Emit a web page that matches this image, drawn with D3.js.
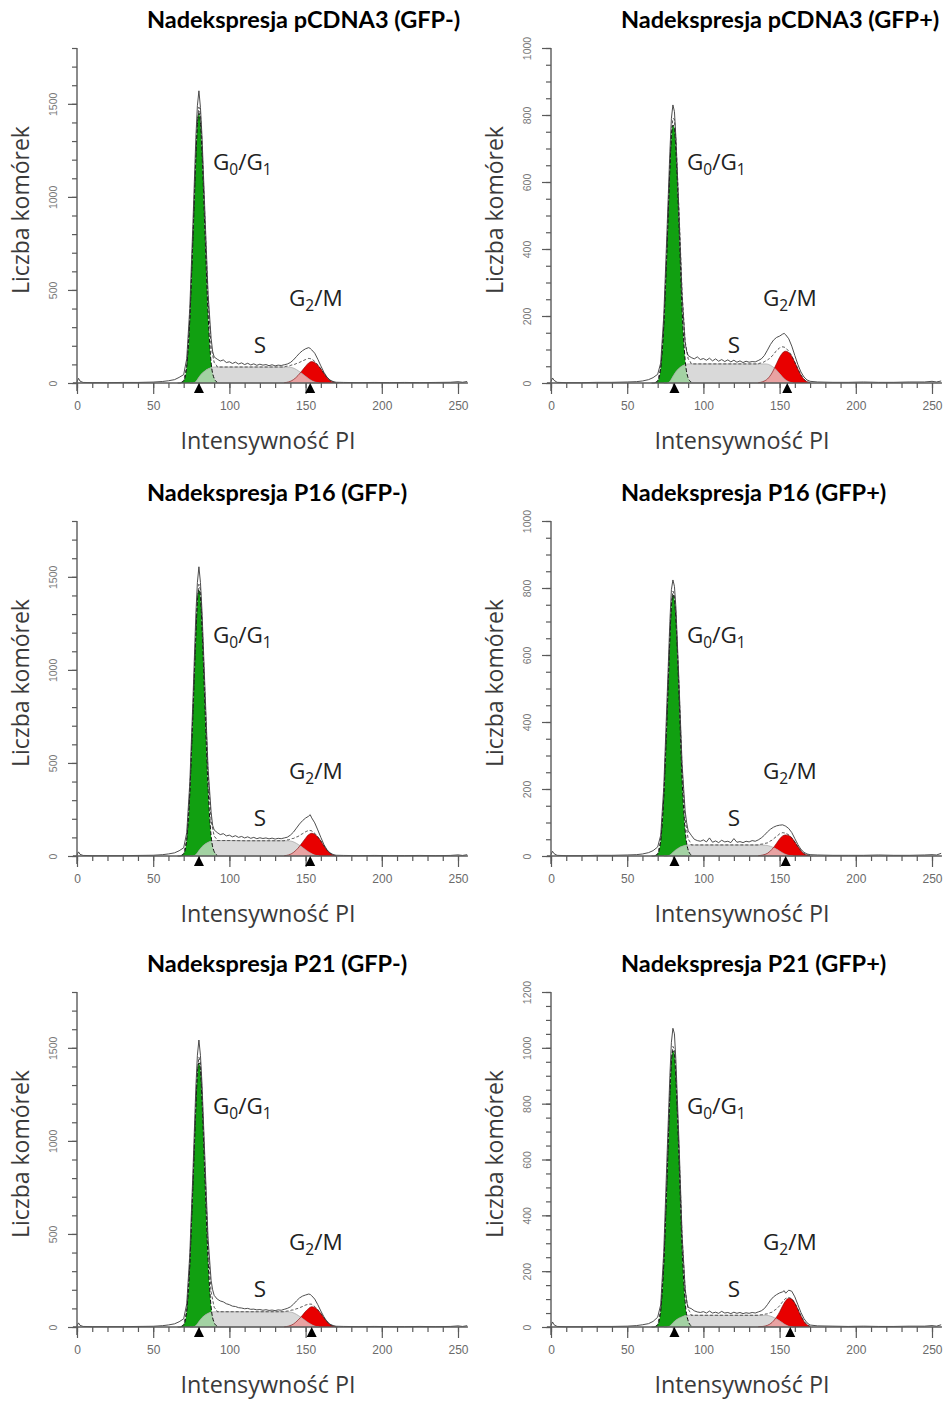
<!DOCTYPE html>
<html><head><meta charset="utf-8">
<script src="https://cdn.jsdelivr.net/npm/d3@7"></script>
<style>body{margin:0;background:#fff} svg{display:block}</style>
</head><body>
<svg id="c" width="949" height="1403"></svg>
<script>
// ---------- data ----------
const titles = ["Nadekspresja pCDNA3 (GFP-)", "Nadekspresja pCDNA3 (GFP+)",
  "Nadekspresja P16 (GFP-)", "Nadekspresja P16 (GFP+)",
  "Nadekspresja P21 (GFP-)", "Nadekspresja P21 (GFP+)"];
const yMaxes = [1800, 1000, 1800, 1000, 1800, 1200];
const yMajorStep = [500, 200, 500, 200, 500, 200];
const yMinorStep = [100, 50, 100, 50, 100, 50];
const xMajorTicks = [0, 50, 100, 150, 200, 250];
const xMinorStep = 10;
const xTitle = "Intensywność PI";
const yTitle = "Liczba komórek";
const g1Peak = [80, 81, 80, 81, 80, 81];
const g2Peak = [153, 155, 153, 154, 154, 157];

// G0/G1 component
const g1X = [68,70,72,74,76,78,79,80,81,82,84,86,88,90,92];
const g1Values = [
  [2,12,90,340,760,1210,1390,1450,1400,1240,800,370,110,25,4],
  [1,6,45,170,390,640,735,770,760,690,470,220,70,15,3],
  [2,12,88,335,750,1190,1370,1430,1390,1230,790,365,108,24,4],
  [1,6,46,175,400,650,745,780,765,700,480,230,78,18,3],
  [2,12,87,333,745,1185,1365,1420,1380,1220,785,360,107,24,4],
  [1,8,60,225,510,830,950,990,975,880,600,285,92,22,4]
];
// S phase component
const sX = [74,76,78,80,82,84,86,88,90,100,110,120,130,138,141,144,147,150,153,156,159];
const sValues = [
  [0,0,8,32,52,66,76,83,86,86,86,86,86,86,83,72,55,36,18,6,0],
  [0,0,5,20,34,44,51,55,57,57,57,57,57,57,57,53,43,28,13,4,0],
  [0,0,8,30,50,64,74,80,83,83,82,82,82,82,79,68,52,34,17,5,0],
  [0,0,3,11,19,25,29,32,33,33,33,33,33,33,32,29,23,15,7,2,0],
  [0,0,8,30,50,64,74,80,82,82,82,82,82,82,79,68,52,34,17,5,0],
  [0,0,4,15,25,32,37,41,42,42,42,42,42,42,42,39,32,22,11,3,0]
];
// G2/M component
const g2X = [136,139,142,145,148,150,152,153,154,156,158,160,162,164,166,168,170];
const g2Values = [
  [2,6,18,40,70,90,108,113,115,110,96,76,52,30,14,5,1],
  [1,4,12,30,58,77,90,94,95,91,80,62,42,24,11,4,1],
  [2,6,19,42,74,96,115,120,122,117,102,81,55,32,15,5,1],
  [1,3,8,20,38,51,60,62,63,61,54,42,28,16,7,3,1],
  [1,5,16,37,64,84,100,106,109,105,92,73,50,29,13,5,1],
  [1,2,6,16,36,54,76,86,94,103,100,86,64,40,20,8,3]
];
// raw histogram
const rawX = [0,1,2,4,10,20,30,40,50,56,60,64,67,70,72,74,76,78,79,80,81,82,84,86,88,89,90,92,94,96,98,100,102,104,106,108,110,112,114,116,118,120,122,124,126,128,130,132,134,136,138,140,142,144,146,148,150,152,153,154,156,158,160,162,164,166,168,170,175,185,195,205,215,225,235,245,250,253,256];
const rawValues = [
  [6,25,10,3,2,2,3,3,5,8, 12,18,30,45,130,400,840,1320,1490,1570, 1480,1330,900,480,240,170,140,128,118,124, 110,114,105,112,102,108,99,106,97,103, 95,101,96,99,93,98,92,96,94,98, 102,110,124,142,160,174,184,190,186,178, 160,128,92,58,32,16,8,4,3,2, 3,2,3,2,3,4,7,4,8],
  [4,15,8,2,1,1,2,2,3,4, 6,10,16,26,60,200,440,690,790,830, 810,730,500,260,120,95,82,76,72,78, 70,73,68,74,66,72,65,70,64,69, 63,68,62,66,61,65,62,64,63,67, 72,82,98,115,128,136,140,146,148,144, 132,110,82,55,33,18,9,5,3,2, 2,3,2,2,3,3,5,3,6],
  [5,22,9,3,2,2,2,3,4,7, 11,17,28,44,125,390,820,1300,1470,1554, 1470,1320,890,470,235,165,140,126,115,120, 108,112,103,109,100,105,97,103,95,100, 93,98,94,97,92,96,91,95,93,97, 101,112,128,150,172,190,204,214,222,205, 178,140,100,62,34,17,8,4,3,2, 3,2,2,3,2,3,6,3,7],
  [4,14,7,2,1,1,2,2,3,4, 6,10,16,27,62,205,450,700,795,824, 805,740,515,275,135,100,75,62,50,46, 44,48,42,54,41,45,40,47,42,44, 40,52,41,43,40,44,42,46,44,48, 54,62,72,80,86,90,92,93,91,89, 82,70,52,34,20,11,6,4,3,2, 2,2,3,2,2,3,4,3,8],
  [5,22,9,3,2,2,2,3,4,7, 11,17,28,44,124,388,815,1290,1460,1542, 1460,1310,885,475,250,200,170,150,140,135, 125,120,112,110,104,102,98,100,95,96, 92,94,90,93,89,91,88,92,90,95, 100,108,122,140,156,166,172,177,175,168, 150,120,86,55,30,15,8,4,3,2, 3,2,2,3,2,3,6,3,7],
  [5,18,8,2,1,1,2,2,3,5, 8,12,20,35,80,270,590,900,1020,1070, 1050,950,660,330,140,90,70,66,58,54, 52,55,50,57,50,53,49,56,50,52, 48,53,49,52,48,51,49,52,50,54, 58,66,80,96,108,116,122,126,130,121, 132,128,108,80,52,30,15,7,4,3, 2,3,2,2,3,3,5,3,8]
];

// ---------- drawing ----------
const svg = d3.select('#c');
const W = 381, H = 335;
const colX = [77, 551], rowY = [383, 856, 1327];
const axisCol = '#5a5a5a';
const interp = (xs, vs) => v => {
  if (v <= xs[0] || v >= xs[xs.length-1]) return 0;
  const k = d3.bisectRight(xs, v) - 1;
  const t = (v - xs[k]) / (xs[k+1] - xs[k]);
  return vs[k] + t * (vs[k+1] - vs[k]);
};

titles.forEach((title, i) => {
  const col = i % 2, row = Math.floor(i / 2);
  const x0 = colX[col], y0 = rowY[row];
  const x = d3.scaleLinear().domain([0, 250]).range([x0, x0 + W]);
  const y = d3.scaleLinear().domain([0, yMaxes[i]]).range([y0, y0 - H]);
  const g = svg.append('g');

  const areaGen = xs => d3.area().x((d, k) => x(xs[k])).y0(y0).y1(d => y(d)).curve(d3.curveMonotoneX);
  const lineGen = xs => d3.line().x((d, k) => x(xs[k])).y(d => y(d)).curve(d3.curveMonotoneX);

  const g1Path = areaGen(g1X)(g1Values[i]);
  const g2Path = areaGen(g2X)(g2Values[i]);
  const sPath = areaGen(sX)(sValues[i]);

  const defs = g.append('defs');
  defs.append('clipPath').attr('id', 'cg1' + i).append('path').attr('d', g1Path);
  defs.append('clipPath').attr('id', 'cg2' + i).append('path').attr('d', g2Path);

  g.append('path').attr('d', g1Path).attr('fill', '#11a011');
  g.append('path').attr('d', g2Path).attr('fill', '#e80000');
  g.append('path').attr('d', sPath).attr('fill', '#d9d9d9');
  g.append('path').attr('d', sPath).attr('fill', '#a3d2a3').attr('clip-path', `url(#cg1${i})`);
  g.append('path').attr('d', sPath).attr('fill', '#e9a2a2').attr('clip-path', `url(#cg2${i})`);
  g.append('path').attr('d', sPath).attr('fill', 'none').attr('stroke', '#9a9a9a').attr('stroke-width', 0.6);

  // dashed outline of G1 component
  g.append('path').attr('d', lineGen(g1X)(g1Values[i])).attr('fill', 'none')
    .attr('stroke', '#111').attr('stroke-width', 1).attr('stroke-dasharray', '4,2');
  g.append('path').attr('d', lineGen(g2X)(g2Values[i])).attr('fill', 'none')
    .attr('stroke', '#7a0000').attr('stroke-width', 0.6);

  // model fit = sum of components
  const f1 = interp(g1X, g1Values[i]), fs = interp(sX, sValues[i]), f2 = interp(g2X, g2Values[i]);
  const fitX = d3.range(66, 172, 0.5);
  const fitV = fitX.map(v => f1(v) + fs(v) + f2(v));
  g.append('path').attr('d', d3.line().x((d, k) => x(fitX[k])).y(d => y(d))(fitV))
    .attr('fill', 'none').attr('stroke', '#222').attr('stroke-width', 0.8).attr('stroke-dasharray', '3,2');

  // raw histogram
  g.append('path').attr('d', d3.line().x((d, k) => x(rawX[k])).y(d => y(d))(rawValues[i]))
    .attr('fill', 'none').attr('stroke', '#3a3a3a').attr('stroke-width', 0.9);

  // axes lines
  g.append('line').attr('x1', x0).attr('x2', x0).attr('y1', y0 + 8).attr('y2', y0 - H)
    .attr('stroke', axisCol).attr('stroke-width', 1.4);
  g.append('line').attr('x1', x0 - 4).attr('x2', x(256.5)).attr('y1', y0).attr('y2', y0)
    .attr('stroke', axisCol).attr('stroke-width', 1.4);

  // y ticks
  const yMinor = d3.range(0, yMaxes[i] + 1, yMinorStep[i]);
  const yMajor = d3.range(0, yMaxes[i] + 1, yMajorStep[i]);
  const ya1 = g.append('g').attr('transform', `translate(${x0},0)`)
    .call(d3.axisLeft(y).tickValues(yMinor).tickSize(5).tickFormat(''));
  const ya2 = g.append('g').attr('transform', `translate(${x0},0)`)
    .call(d3.axisLeft(y).tickValues(yMajor).tickSize(9).tickFormat(d3.format('d')));
  [ya1, ya2].forEach(a => { a.select('.domain').remove(); a.selectAll('line').attr('stroke', axisCol).attr('stroke-width', 1.2); });
  ya2.selectAll('text')
    .attr('x', null).attr('dy', null)
    .attr('transform', 'translate(-24,0) rotate(-90)')
    .attr('text-anchor', 'middle').attr('dominant-baseline', 'central')
    .attr('fill', '#7a7a7a').style('font-family', 'Arial, "Liberation Sans", sans-serif').style('font-size', '10.5px');

  // x ticks
  const xa1 = g.append('g').attr('transform', `translate(0,${y0})`)
    .call(d3.axisBottom(x).tickValues(d3.range(0, 251, xMinorStep)).tickSize(5).tickFormat(''));
  const xa2 = g.append('g').attr('transform', `translate(0,${y0})`)
    .call(d3.axisBottom(x).tickValues(xMajorTicks).tickSize(11).tickFormat(d3.format('d')));
  [xa1, xa2].forEach(a => { a.select('.domain').remove(); a.selectAll('line').attr('stroke', axisCol).attr('stroke-width', 1.2); });
  xa2.selectAll('text').attr('y', 18).attr('fill', '#6a6a6a')
    .style('font-family', 'Arial, "Liberation Sans", sans-serif').style('font-size', '12px');

  // peak markers
  [g1Peak[i], g2Peak[i]].forEach(p => {
    const px = x(p);
    g.append('path').attr('d', `M${px - 5},${y0 + 10}L${px + 5},${y0 + 10}L${px},${y0}Z`).attr('fill', '#000');
  });

  // titles
  g.append('text').attr('x', x0 + 70).attr('y', y0 - 355).text(title)
    .attr('fill', '#000').style('font-family', 'Lato, "Open Sans", sans-serif')
    .style('font-weight', 700).style('font-size', '23.5px');
  g.append('text').attr('transform', `translate(${x0 - 48},${y0 - 173}) rotate(-90)`)
    .attr('text-anchor', 'middle').text(yTitle)
    .attr('fill', '#3a3a3a').style('font-family', '"Open Sans", sans-serif').style('font-size', '23px');
  g.append('text').attr('x', x0 + 191).attr('y', y0 + 66).attr('text-anchor', 'middle').text(xTitle)
    .attr('fill', '#3a3a3a').style('font-family', '"Open Sans", sans-serif').style('font-size', '23.4px');

  // phase labels
  const lab = (tx, ty, parts) => {
    const t = g.append('text').attr('x', tx).attr('y', ty).attr('fill', '#222')
      .style('font-family', '"Open Sans", sans-serif').style('font-size', '22.5px');
    parts.forEach(([s, sub]) => {
      const ts = t.append('tspan').text(s);
      if (sub) ts.attr('dy', 5).style('font-size', '15.5px');
      else ts.attr('dy', t.selectAll('tspan').size() > 1 ? -5 : 0);
    });
  };
  lab(x0 + 136, y0 - 213, [['G', false], ['0', true], ['/G', false], ['1', true]]);
  lab(x0 + 212, y0 - 77, [['G', false], ['2', true], ['/M', false]]);
  g.append('text').attr('x', x0 + 183).attr('y', y0 - 30).attr('text-anchor', 'middle').text('S')
    .attr('fill', '#222').style('font-family', '"Open Sans", sans-serif').style('font-size', '22.5px');
});
</script>
</body></html>
